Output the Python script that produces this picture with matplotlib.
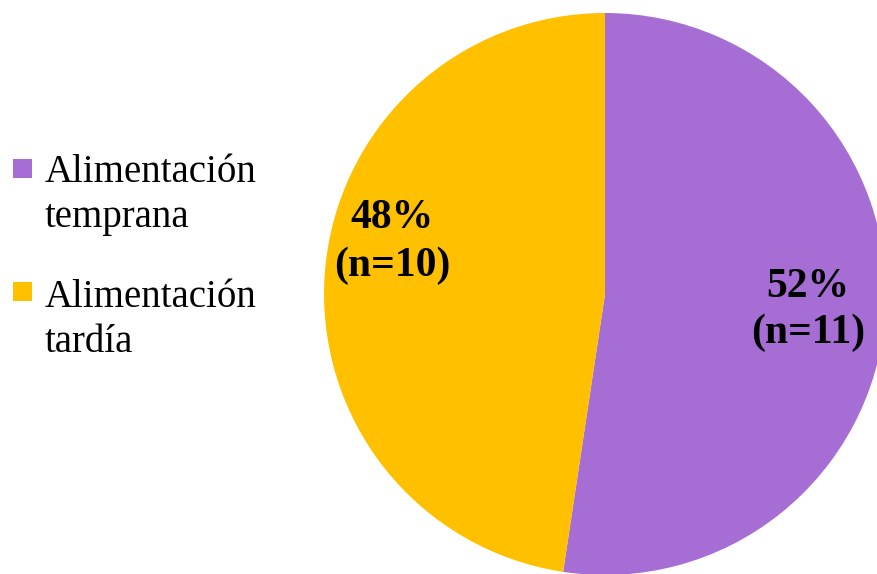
import matplotlib.pyplot as plt
from matplotlib.patches import Rectangle

# data
categories = ["Alimentación\ntemprana", "Alimentación\ntardía"]
counts = [11, 10]
colors = ["#A66DD4", "#FFC000"]

W, H = 877, 574
plt.rcParams["font.family"] = ["Liberation Serif", "DejaVu Serif"]

fig = plt.figure(figsize=(W / 100, H / 100), dpi=100)
ax = fig.add_axes([0, 0, 1, 1])

# pie in pixel units (y measured from bottom)
cx, cy, r = 605, H - 294, 281
wedges, _ = ax.pie(counts, colors=colors, startangle=90, counterclock=False,
                   center=(cx, cy), radius=r, frame=True,
                   wedgeprops=dict(linewidth=0))
ax.set_xlim(0, W)
ax.set_ylim(0, H)
ax.set_aspect("equal")
ax.axis("off")

total = sum(counts)
# label positions (x center, baselines from top)
label_pos = [(808, 297, 343), (392, 228, 276)]
for n, (x, b1, b2) in zip(counts, label_pos):
    pct = round(100 * n / total)
    ax.text(x, H - b1, f"{pct}%", ha="center", va="baseline",
            fontsize=30, fontweight="bold")
    ax.text(x, H - b2, f"(n={n})", ha="center", va="baseline",
            fontsize=30, fontweight="bold")

# legend drawn by hand so the marker sits on the first line
legend_rows = [(159, 182, 227), (282, 307, 352)]
for lab, col, (sq_top, b1, b2) in zip(categories, colors, legend_rows):
    ax.add_patch(Rectangle((13, H - sq_top - 19), 19, 19, color=col, lw=0))
    line1, line2 = lab.split("\n")
    ax.text(45, H - b1, line1, ha="left", va="baseline", fontsize=28)
    ax.text(45, H - b2, line2, ha="left", va="baseline", fontsize=28)

fig.savefig("out.png", dpi=100)
